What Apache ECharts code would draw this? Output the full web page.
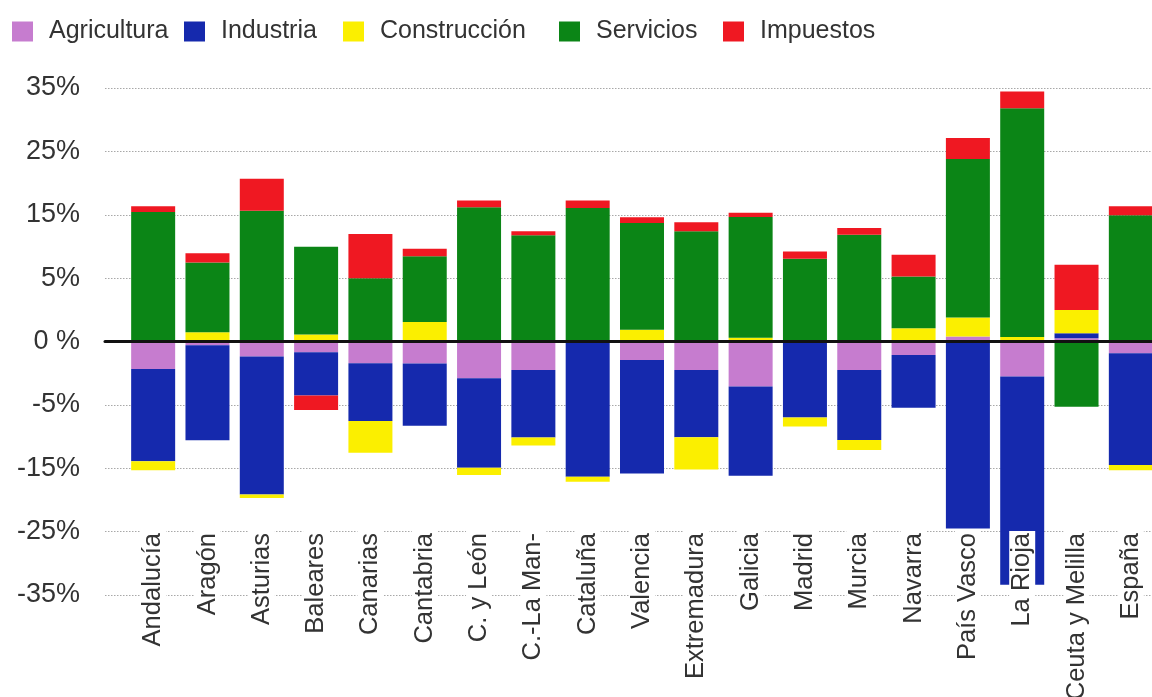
<!DOCTYPE html>
<html>
<head>
<meta charset="utf-8">
<script src="https://cdn.jsdelivr.net/npm/echarts@6/dist/echarts.min.js"></script>
<style>
html,body{margin:0;padding:0;background:#fff;}
#chart{width:1152px;height:697px;}
</style>
</head>
<body>
<div id="chart"></div>
<script>
// Categories
const categories = ['Andalucía','Aragón','Asturias','Baleares','Canarias','Cantabria','C. y León','C.-La Man-','Cataluña','Valencia','Extremadura','Galicia','Madrid','Murcia','Navarra','País Vasco','La Rioja','Ceuta y Melilla','España'];
// Series values (in axis units; one tick step = 5 units)
const agricultura  = [-2.17,-0.3,-1.19,-0.85,-1.72,-1.74,-2.9,-2.24,0,-1.45,-2.24,-3.56,0,-2.24,-1.06,0.4,-2.77,0.25,-0.92];
const industria    = [-7.27,-7.5,-10.89,-3.42,-4.56,-4.9,-7.06,-5.34,-10.67,-8.96,-5.32,-7.04,-6.0,-5.53,-4.16,-14.76,-16.42,0.4,-8.83];
const construccion = [-0.71,0.73,-0.26,0.55,-2.5,1.53,-0.58,-0.63,-0.4,0.92,-2.53,0.3,-0.71,-0.79,1.05,1.5,0.35,1.84,-0.4];
const servicios    = [10.22,5.5,10.32,6.93,5.0,5.19,10.6,8.38,10.54,8.43,8.7,9.53,6.53,8.43,4.08,12.5,18.05,-5.14,9.96];
const impuestos    = [0.45,0.73,2.53,-1.14,3.48,0.6,0.52,0.32,0.58,0.45,0.71,0.32,0.58,0.53,1.72,1.66,1.32,3.56,0.71];
// Tick values and their printed labels
const yTickValues = [-20,-15,-10,-5,0,5,10,15,20];
const yTickLabels = ['-35%','-25%','-15%','-5%','0 %','5%','15%','25%','35%'];

const seriesNames = ['Agricultura','Industria','Construcción','Servicios','Impuestos'];
const seriesData = [agricultura, industria, construccion, servicios, impuestos];
const colors = ['#c67ccf','#1529ad','#fbef00','#0b8516','#ef1822'];
const legendLeft = [12, 184, 343, 559, 723];

const FONT = "'Liberation Sans', Arial, Helvetica, sans-serif";
const chart = echarts.init(document.getElementById('chart'), null, {renderer:'canvas'});

const option = {
  backgroundColor: '#fff',
  animation: false,
  textStyle: {fontFamily: FONT},
  legend: seriesNames.map((n, i) => ({
    data: [n],
    left: legendLeft[i],
    top: 19,
    icon: 'rect',
    itemWidth: 21,
    itemHeight: 20,
    selectedMode: false,
    padding: 0,
    textStyle: {fontSize: 25, color: '#333', fontFamily: FONT, padding: [0,0,0,11]}
  })),
  grid: [
    {left: 105, right: -6, top: 88, bottom: 102, containLabel: false, outerBoundsMode: 'none'},
    {left: 126, right: -6, top: 88, bottom: 102, containLabel: false, outerBoundsMode: 'none'}
  ],
  xAxis: [
    {
      gridIndex: 0, type: 'value', min: 0, max: 1, z: 5,
      axisLine: {show: true, onZero: true, lineStyle: {color: '#111', width: 3}},
      axisTick: {show: false}, axisLabel: {show: false}, splitLine: {show: false}
    },
    {
      gridIndex: 1, type: 'category', data: categories, z: 10,
      axisLine: {show: false}, axisTick: {show: false}, splitLine: {show: false},
      axisLabel: {
        interval: 0, rotate: 90, margin: -64, fontSize: 25.5, color: '#333',
        fontFamily: FONT, backgroundColor: '#fff', padding: [0,2,0,2]
      }
    }
  ],
  yAxis: [
    {
      gridIndex: 0, type: 'value', min: -20, max: 20, interval: 5,
      axisLine: {show: false}, axisTick: {show: false},
      axisLabel: {
        margin: 25, fontSize: 27, color: '#333', fontFamily: FONT,
        formatter: v => yTickLabels[yTickValues.indexOf(v)]
      },
      splitLine: {show: true, lineStyle: {color: '#a8a8a8', width: 1, type: [1.5, 1.5]}}
    },
    {
      gridIndex: 1, type: 'value', min: -20, max: 20, interval: 5, show: false,
      splitLine: {show: false}
    }
  ],
  series: seriesNames.map((n, i) => ({
    name: n,
    type: 'bar',
    xAxisIndex: 1,
    yAxisIndex: 1,
    stack: 'total',
    stackStrategy: 'samesign',
    barWidth: 44,
    itemStyle: {color: colors[i]},
    data: seriesData[i]
  }))
};
chart.setOption(option);
</script>
</body>
</html>
